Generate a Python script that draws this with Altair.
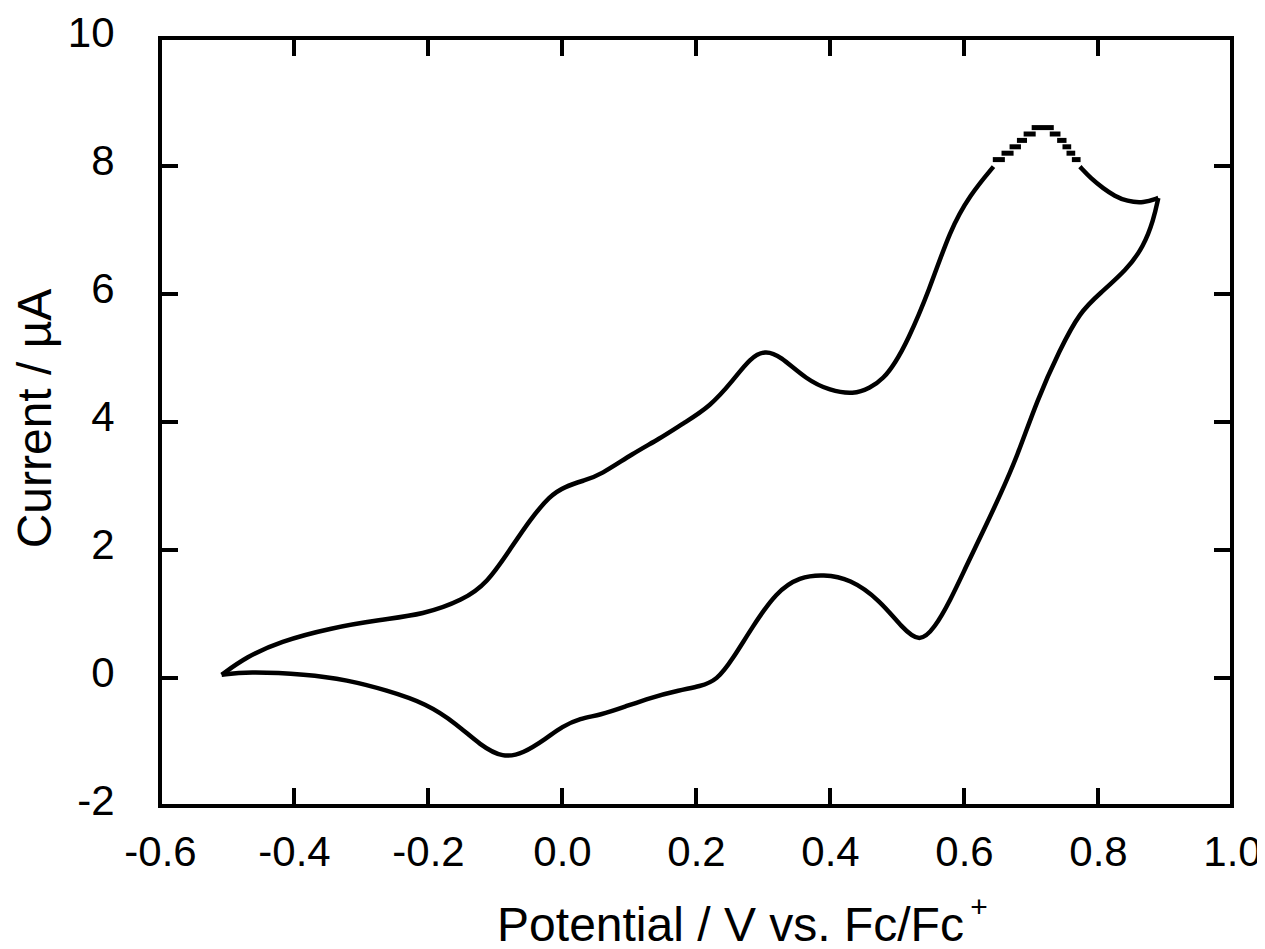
import altair as alt
import pandas as pd

# Forward (upper) branch, from left vertex up to the saturated peak region
up_x = [-0.508, -0.471, -0.421, -0.346, -0.272, -0.207, -0.147, -0.112, -0.078, -0.048,
        -0.018, 0.004, 0.034, 0.057, 0.106, 0.146, 0.181, 0.221, 0.256, 0.281,
        0.303, 0.325, 0.365, 0.400, 0.435, 0.460, 0.480, 0.497, 0.515, 0.548,
        0.579, 0.609, 0.644]
up_y = [0.05, 0.33, 0.57, 0.78, 0.91, 0.99, 1.22, 1.48, 2.00, 2.47,
        2.85, 2.99, 3.09, 3.17, 3.51, 3.74, 3.98, 4.24, 4.66, 5.00,
        5.12, 5.04, 4.66, 4.49, 4.43, 4.53, 4.68, 4.92, 5.25, 6.05,
        7.00, 7.55, 7.99]

# After the peak, up to the right vertex
tail_x = [0.773, 0.790, 0.808, 0.825, 0.843, 0.868, 0.890]
tail_y = [7.99, 7.80, 7.65, 7.53, 7.45, 7.42, 7.50]

# Reverse (lower) branch, from right vertex back to left vertex
lo_x = [0.890, 0.883, 0.868, 0.843, 0.803, 0.773, 0.743, 0.709, 0.679, 0.654,
        0.629, 0.604, 0.579, 0.556, 0.534, 0.508, 0.474, 0.430, 0.390, 0.355,
        0.320, 0.283, 0.255, 0.231, 0.206, 0.176, 0.131, 0.094, 0.057, 0.027,
        0.000, -0.023, -0.058, -0.088, -0.122, -0.157, -0.202, -0.262, -0.321, -0.381,
        -0.471, -0.508]
lo_y = [7.50, 7.16, 6.74, 6.38, 6.01, 5.72, 5.13, 4.34, 3.45, 2.86,
        2.30, 1.76, 1.20, 0.78, 0.55, 0.78, 1.22, 1.55, 1.62, 1.58,
        1.35, 0.78, 0.30, -0.04, -0.13, -0.19, -0.31, -0.45, -0.58, -0.63,
        -0.76, -0.94, -1.18, -1.25, -1.05, -0.72, -0.40, -0.19, -0.03, 0.06,
        0.10, 0.05]

# Quantised (saturated) samples around the peak, drawn as short dashes
dash_y = [8.1, 8.2, 8.3, 8.4, 8.5, 8.6, 8.5, 8.4, 8.3, 8.2, 8.1]
dash_x1 = [0.643, 0.656, 0.668, 0.679, 0.689, 0.701, 0.728, 0.739, 0.747, 0.753, 0.761]
dash_x2 = [0.661, 0.674, 0.685, 0.694, 0.707, 0.734, 0.744, 0.753, 0.760, 0.766, 0.774]

x_ticks = [-0.6, -0.4, -0.2, 0.0, 0.2, 0.4, 0.6, 0.8, 1.0]
y_ticks = [-2, 0, 2, 4, 6, 8, 10]

x_title = "Potential / V vs. Fc/Fc"
x_title_sup = "+"
y_title = "Current / \u00b5A"

rows = []
for seg, xs_, ys_ in (("a", up_x, up_y), ("b", tail_x, tail_y), ("c", lo_x, lo_y)):
    for i, (e, c) in enumerate(zip(xs_, ys_)):
        rows.append({"seg": seg, "i": i, "E": e, "I": c})
df = pd.DataFrame(rows)
dash_df = pd.DataFrame({"E": dash_x1, "x2": dash_x2, "I": dash_y})
xt_df = pd.DataFrame({"E": x_ticks})
yt_df = pd.DataFrame({"I": y_ticks})
sup_df = pd.DataFrame({"txt": [x_title_sup]})

W, H = 1072, 768
TL = 18
FONT = "Liberation Sans"

xs = alt.Scale(domain=[-0.6, 1.0], nice=False, zero=False)
ys = alt.Scale(domain=[-2, 10], nice=False, zero=False)

x_axis = alt.Axis(values=x_ticks, ticks=False, tickSize=0, domain=False, grid=False,
                  labelFont=FONT, labelFontSize=42, labelColor="black",
                  labelPadding=59, labelBaseline="alphabetic",
                  labelFlush=False, labelOverlap=False,
                  labelExpr="(datum.value < 0 ? '-' : '') + format(abs(datum.value), '.1f')",
                  title=x_title, titleFont=FONT,
                  titleFontSize=48, titleFontWeight="normal", titleColor="black",
                  titleX=570, titleY=134, titleAlign="center", titleBaseline="alphabetic")
y_axis = alt.Axis(values=y_ticks, ticks=False, tickSize=0, domain=False, grid=False,
                  labelFont=FONT, labelFontSize=42, labelColor="black",
                  labelPadding=46, labelBaseline="alphabetic", labelOffset=8,
                  labelFlush=False, labelOverlap=False,
                  labelExpr="(datum.value < 0 ? '-' : '') + format(abs(datum.value), 'd')",
                  title=y_title, titleFont=FONT,
                  titleFontSize=48, titleFontWeight="normal", titleColor="black",
                  titleX=-110, titleY=380, titleAlign="center", titleBaseline="alphabetic",
                  titleAngle=270)

line = alt.Chart(df).mark_line(color="black", strokeWidth=4.5,
                               interpolate="basis").encode(
    x=alt.X("E:Q", scale=xs, axis=x_axis),
    y=alt.Y("I:Q", scale=ys, axis=y_axis),
    detail="seg:N",
    order="i:Q",
)

dashes = alt.Chart(dash_df).mark_rule(color="black", strokeWidth=5).encode(
    x=alt.X("E:Q"),
    x2="x2:Q",
    y=alt.Y("I:Q"),
)

bt = alt.Chart(xt_df).mark_rule(color="black", strokeWidth=4).encode(
    x=alt.X("E:Q"), y=alt.value(H), y2=alt.value(H - TL))
tt = alt.Chart(xt_df).mark_rule(color="black", strokeWidth=4).encode(
    x=alt.X("E:Q"), y=alt.value(0), y2=alt.value(TL))
lt = alt.Chart(yt_df).mark_rule(color="black", strokeWidth=4).encode(
    y=alt.Y("I:Q"), x=alt.value(0), x2=alt.value(TL))
rt = alt.Chart(yt_df).mark_rule(color="black", strokeWidth=4).encode(
    y=alt.Y("I:Q"), x=alt.value(W), x2=alt.value(W - TL))

sup = alt.Chart(sup_df).mark_text(font=FONT, fontSize=30, color="black",
                                  align="center", baseline="middle").encode(
    text="txt:N", x=alt.value(819), y=alt.value(870))

chart = alt.layer(line, dashes, bt, tt, lt, rt, sup).properties(
    width=W, height=H,
    autosize=alt.AutoSizeParams(type="none"),
    padding={"left": 152, "top": 30, "right": 25, "bottom": 141},
    background="white",
).configure_view(stroke="black", strokeWidth=4)

chart.save("out.html", embed_options={"renderer": "svg", "actions": False})
